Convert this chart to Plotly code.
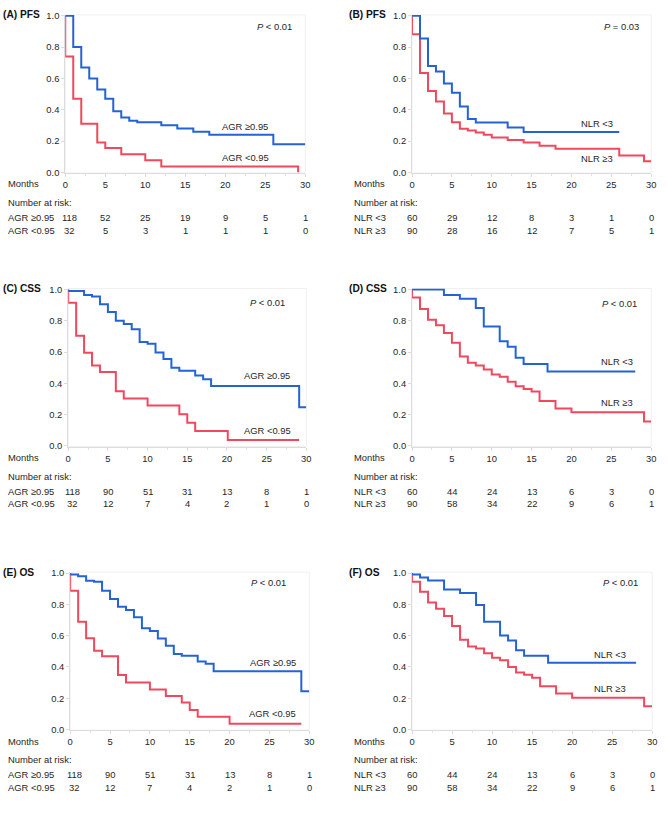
import plotly.graph_objects as go
from plotly.subplots import make_subplots

# ---- survival curves (months, survival probability) ----
pfs_agr_hi_t = [0, 1, 2, 3, 4, 5, 6, 7, 8, 9, 12, 14, 16, 18, 26, 30]
pfs_agr_hi_s = [1.0, 0.80, 0.67, 0.60, 0.53, 0.47, 0.39, 0.35, 0.33, 0.32, 0.30, 0.28, 0.26, 0.24, 0.18, 0.18]
pfs_agr_lo_t = [0, 0, 1, 2, 4, 5, 7, 10, 12, 29.1]
pfs_agr_lo_s = [1.0, 0.74, 0.47, 0.31, 0.19, 0.155, 0.115, 0.077, 0.038, 0.0]

pfs_nlr_lo_t = [0, 1, 2, 3, 4, 5, 6, 7, 8, 12, 14, 26]
pfs_nlr_lo_s = [1.0, 0.855, 0.68, 0.645, 0.568, 0.508, 0.42, 0.34, 0.318, 0.287, 0.258, 0.258]
pfs_nlr_hi_t = [0, 0, 1, 2, 3, 4, 5, 6, 7, 8, 9, 10, 12, 14, 16, 18, 26, 29.1, 30]
pfs_nlr_hi_s = [1.0, 0.882, 0.634, 0.52, 0.452, 0.376, 0.32, 0.279, 0.267, 0.254, 0.24, 0.223, 0.207,
                0.19, 0.17, 0.151, 0.107, 0.07, 0.07]

css_agr_hi_t = [0, 0, 2, 3, 4, 5, 6, 7, 8, 9, 10, 11, 12, 13, 14, 16, 17, 18, 29.1, 30]
css_agr_hi_s = [1.0, 0.99, 0.965, 0.955, 0.906, 0.856, 0.80, 0.78, 0.746, 0.665, 0.654, 0.598, 0.556,
                0.50, 0.48, 0.45, 0.427, 0.383, 0.248, 0.248]
css_agr_lo_t = [0, 0, 1, 2, 3, 4, 6, 7, 10, 14, 15, 16, 20.1, 29.1]
css_agr_lo_s = [1.0, 0.915, 0.704, 0.596, 0.515, 0.473, 0.35, 0.304, 0.258, 0.202, 0.148, 0.096, 0.0375, 0.0375]

css_nlr_lo_t = [0, 4, 6, 8, 9, 11, 12, 13, 14, 17, 28]
css_nlr_lo_s = [1.0, 0.965, 0.94, 0.882, 0.764, 0.669, 0.634, 0.563, 0.524, 0.476, 0.476]
css_nlr_hi_t = [0, 0, 1, 2, 3, 4, 5, 6, 7, 8, 9, 10, 11, 12, 13, 14, 15, 16, 18, 20, 29.1, 30]
css_nlr_hi_s = [1.0, 0.948, 0.876, 0.807, 0.772, 0.722, 0.66, 0.571, 0.532, 0.515, 0.489, 0.457, 0.443,
                0.41, 0.381, 0.364, 0.348, 0.288, 0.24, 0.216, 0.157, 0.157]

os_agr_hi_t = [0, 0, 1, 2, 3, 4, 5, 6, 7, 8, 9, 10, 11, 12, 13, 14, 16, 17, 18, 29, 30]
os_agr_hi_s = [1.0, 0.99, 0.98, 0.95, 0.944, 0.886, 0.834, 0.784, 0.763, 0.717, 0.647, 0.63, 0.582,
               0.536, 0.482, 0.472, 0.435, 0.42, 0.373, 0.245, 0.245]
os_agr_lo_t = [0, 0, 1, 2, 3, 4, 6, 7, 10, 12, 14, 15, 16, 20, 29]
os_agr_lo_s = [1.0, 0.886, 0.688, 0.584, 0.503, 0.468, 0.349, 0.301, 0.256, 0.214, 0.173, 0.125, 0.081, 0.037, 0.037]

os_nlr_lo_t = [0, 0, 1, 2, 4, 6, 8, 9, 11, 12, 13, 14, 17, 28]
os_nlr_lo_s = [1.0, 0.99, 0.971, 0.952, 0.894, 0.872, 0.795, 0.689, 0.60, 0.569, 0.507, 0.472, 0.426, 0.426]
os_nlr_hi_t = [0, 0, 1, 2, 3, 4, 5, 6, 7, 8, 9, 10, 11, 12, 13, 14, 15, 16, 18, 20, 29, 30]
os_nlr_hi_s = [1.0, 0.944, 0.88, 0.812, 0.772, 0.725, 0.662, 0.573, 0.53, 0.518, 0.487, 0.458, 0.443,
               0.40, 0.364, 0.35, 0.331, 0.277, 0.23, 0.203, 0.149, 0.149]

# ---- number at risk ----
risk_months = [0, 5, 10, 15, 20, 25, 30]
pfs_agr_hi_n = [118, 52, 25, 19, 9, 5, 1]
pfs_agr_lo_n = [32, 5, 3, 1, 1, 1, 0]
pfs_nlr_lo_n = [60, 29, 12, 8, 3, 1, 0]
pfs_nlr_hi_n = [90, 28, 16, 12, 7, 5, 1]
agr_hi_n = [118, 90, 51, 31, 13, 8, 1]
agr_lo_n = [32, 12, 7, 4, 2, 1, 0]
nlr_lo_n = [60, 44, 24, 13, 6, 3, 0]
nlr_hi_n = [90, 58, 34, 22, 9, 6, 1]

BLUE = '#2563d4'
RED = '#f0485e'
TXT = '#262626'
FONT = 'Arial, Liberation Sans, sans-serif'
FS = 9.4
W, H = 668, 830

# per panel: title, blue curve, red curve, labels, p text, risk rows, pixel box (x0, x1, ytop, ybottom)
panels = [
    dict(title='(A) PFS', blue=(pfs_agr_hi_t, pfs_agr_hi_s), red=(pfs_agr_lo_t, pfs_agr_lo_s),
         blue_lab=('AGR ≥0.95', 22.5, 0.29), red_lab=('AGR &lt;0.95', 22.5, 0.094),
         p=('<i>P</i> &lt; 0.01', 26.2, 0.93),
         rows=[('AGR ≥0.95', pfs_agr_hi_n), ('AGR &lt;0.95', pfs_agr_lo_n)],
         box=(63, 306, 10, 170), lx=3, title_x=-2),
    dict(title='(B) PFS', blue=(pfs_nlr_lo_t, pfs_nlr_lo_s), red=(pfs_nlr_hi_t, pfs_nlr_hi_s),
         blue_lab=('NLR &lt;3', 23.2, 0.31), red_lab=('NLR ≥3', 23.2, 0.09),
         p=('<i>P</i> = 0.03', 26.3, 0.93),
         rows=[('NLR &lt;3', pfs_nlr_lo_n), ('NLR ≥3', pfs_nlr_hi_n)],
         box=(414, 656, 10, 170), lx=353, title_x=348),
    dict(title='(C) CSS', blue=(css_agr_hi_t, css_agr_hi_s), red=(css_agr_lo_t, css_agr_lo_s),
         blue_lab=('AGR ≥0.95', 25.1, 0.45), red_lab=('AGR &lt;0.95', 25.1, 0.10),
         p=('<i>P</i> &lt; 0.01', 25.1, 0.92),
         rows=[('AGR ≥0.95', agr_hi_n), ('AGR &lt;0.95', agr_lo_n)],
         box=(66, 307, 287, 447), lx=3, title_x=-2),
    dict(title='(D) CSS', blue=(css_nlr_lo_t, css_nlr_lo_s), red=(css_nlr_hi_t, css_nlr_hi_s),
         blue_lab=('NLR &lt;3', 25.7, 0.54), red_lab=('NLR ≥3', 25.7, 0.28),
         p=('<i>P</i> &lt; 0.01', 26.0, 0.91),
         rows=[('NLR &lt;3', nlr_lo_n), ('NLR ≥3', nlr_hi_n)],
         box=(414, 656, 287, 447), lx=353, title_x=348),
    dict(title='(E) OS', blue=(os_agr_hi_t, os_agr_hi_s), red=(os_agr_lo_t, os_agr_lo_s),
         blue_lab=('AGR ≥0.95', 25.4, 0.43), red_lab=('AGR &lt;0.95', 25.4, 0.10),
         p=('<i>P</i> &lt; 0.01', 24.9, 0.94),
         rows=[('AGR ≥0.95', agr_hi_n), ('AGR &lt;0.95', agr_lo_n)],
         box=(68, 310, 574, 734), lx=3, title_x=-2),
    dict(title='(F) OS', blue=(os_nlr_lo_t, os_nlr_lo_s), red=(os_nlr_hi_t, os_nlr_hi_s),
         blue_lab=('NLR &lt;3', 24.7, 0.48), red_lab=('NLR ≥3', 24.7, 0.26),
         p=('<i>P</i> &lt; 0.01', 26.0, 0.94),
         rows=[('NLR &lt;3', nlr_lo_n), ('NLR ≥3', nlr_hi_n)],
         box=(414, 657, 574, 734), lx=353, title_x=348),
]

fig = make_subplots(rows=3, cols=2)


def px_(v):
    # pixel column -> paper fraction
    return v / W


def py_(v):
    # pixel row -> paper fraction
    return 1 - v / H


for i, p in enumerate(panels):
    r, c = i // 2 + 1, i % 2 + 1
    n = '' if i == 0 else str(i + 1)
    xref, yref = 'x' + n, 'y' + n
    x0, x1, yt, yb = p['box']

    for (t, s), col in ((p['red'], RED), (p['blue'], BLUE)):
        fig.add_trace(go.Scatter(x=t, y=s, mode='lines', line=dict(color=col, width=2, shape='hv'),
                                 showlegend=False, hoverinfo='skip'), row=r, col=c)

    fig.update_xaxes(domain=[px_(x0), px_(x1)], range=[0, 30], tickvals=risk_months, showline=True,
                     linecolor='#dcdcdc', linewidth=1, ticks='outside', ticklen=3, tickcolor='#dcdcdc',
                     minor=dict(ticks='outside', ticklen=2, dtick=2.5, tickcolor='#e4e4e4'),
                     showgrid=False, zeroline=False, tickfont=dict(size=FS, color=TXT, family=FONT),
                     row=r, col=c)
    fig.update_yaxes(domain=[py_(yb), py_(yt)], range=[-0.004, 1.006], tickvals=[0, 0.2, 0.4, 0.6, 0.8, 1.0],
                     tickformat='.1f', showline=True, linecolor='#dcdcdc', linewidth=1, ticks='outside',
                     ticklen=3, tickcolor='#dcdcdc', showgrid=False, zeroline=False,
                     tickfont=dict(size=FS, color=TXT, family=FONT), row=r, col=c)

    # faint frame on top/right
    fig.add_shape(type='rect', xref=xref + ' domain', yref=yref + ' domain', x0=0, x1=1, y0=0, y1=1,
                  line=dict(color='#f0f0f0', width=1), layer='below')

    # title
    fig.add_annotation(text='<b>' + p['title'] + '</b>', xref='paper', yref='paper', x=px_(p['title_x']),
                       y=py_(yt), xanchor='left', yanchor='middle', showarrow=False,
                       font=dict(size=10.2, color='#111', family=FONT))
    # curve labels and p value
    for txt, ax, ay in (p['blue_lab'], p['red_lab'], p['p']):
        fig.add_annotation(text=txt, xref=xref, yref=yref, x=ax, y=ay, showarrow=False,
                           font=dict(size=FS, color=TXT, family=FONT))

    # months label and risk table
    fig.add_annotation(text='Months', xref='paper', yref='paper', x=px_(p['lx']), y=py_(yb + 11),
                       xanchor='left', yanchor='middle', showarrow=False,
                       font=dict(size=FS, color=TXT, family=FONT))
    fig.add_annotation(text='Number at risk:', xref='paper', yref='paper', x=px_(p['lx']), y=py_(yb + 30),
                       xanchor='left', yanchor='middle', showarrow=False,
                       font=dict(size=FS, color=TXT, family=FONT))
    for k, (lab, counts) in enumerate(p['rows']):
        yy = py_(yb + 45 + 13 * k)
        fig.add_annotation(text=lab, xref='paper', yref='paper', x=px_(p['lx']), y=yy,
                           xanchor='left', yanchor='middle', showarrow=False,
                           font=dict(size=FS, color=TXT, family=FONT))
        for m, cnt in zip(risk_months, counts):
            fig.add_annotation(text=str(cnt), xref=xref, yref='paper', x=m, y=yy, xanchor='center',
                               yanchor='middle', showarrow=False, xshift=4 if (m == 0 and c == 1) else 0,
                               font=dict(size=FS, color=TXT, family=FONT))

fig.update_layout(width=W, height=H, margin=dict(l=0, r=0, t=0, b=0), plot_bgcolor='white',
                  paper_bgcolor='white', font=dict(family=FONT, color=TXT))

# drop the default page margin so the figure sits exactly in the window
fig.write_html("out.html", config={'displayModeBar': False},
               post_script="document.body.style.margin='0';"
                           "document.documentElement.style.overflow='hidden';")
